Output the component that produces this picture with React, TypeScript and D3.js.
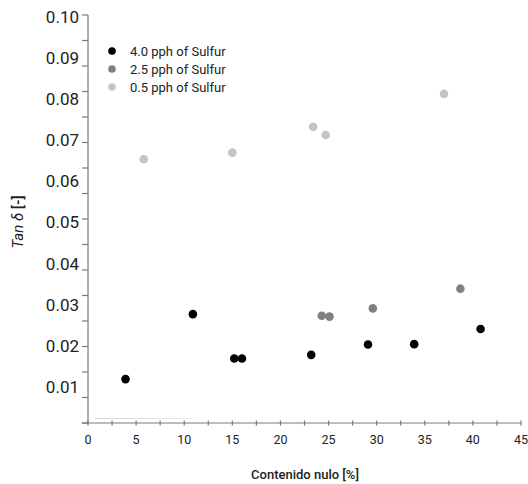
import React from "react";
import * as d3 from "d3";

const series4x = [3.9, 10.9, 15.2, 16.0, 23.2, 29.1, 33.9, 40.8];
const series4y = [0.0119, 0.0277, 0.0169, 0.0169, 0.0178, 0.0203, 0.0204, 0.0241];
const series25x = [24.3, 25.1, 29.6, 38.7];
const series25y = [0.0273, 0.0271, 0.0291, 0.0339];
const series05x = [5.8, 15.0, 23.4, 24.7, 37.0];
const series05y = [0.0654, 0.067, 0.0733, 0.0713, 0.0813];
const seriesNames = ["4.0 pph of Sulfur", "2.5 pph of Sulfur", "0.5 pph of Sulfur"];
const seriesColors = ["#000000", "#808080", "#c4c4c4"];
const xTickLabels = [0, 5, 10, 15, 20, 25, 30, 35, 40, 45];
const yTickLabels = [0.01, 0.02, 0.03, 0.04, 0.05, 0.06, 0.07, 0.08, 0.09, 0.1];

export default function App() {
  const W = 528, H = 484;
  const axisY = 423;
  const x = d3.scaleLinear().domain([0, 45]).range([88, 521]);
  const y = d3.scaleLinear().domain([0, 0.1]).range([428, 17]);
  const yTick = d3.scaleLinear().domain([0, 16]).range([axisY, 15]);
  const xMinor = d3.range(0, 45.01, 2.5);
  const font = "Roboto, 'Noto Sans', sans-serif";
  const axisColor = "#7a7a7a";
  const textColor = "#222";

  const all = [
    { xs: series4x, ys: series4y },
    { xs: series25x, ys: series25y },
    { xs: series05x, ys: series05y },
  ];

  return (
    <svg width={W} height={H} style={{ position: "absolute", left: 0, top: 0, background: "#fff" }} fontFamily={font}>
      <defs>
        <linearGradient id="fade" x1="0" x2="1" y1="0" y2="0">
          <stop offset="0" stopColor="#cfcfcf" />
          <stop offset="1" stopColor="#f2f2f2" />
        </linearGradient>
      </defs>
      {/* faint artifact line */}
      <rect x={95} y={418} width={100} height={1} fill="url(#fade)" />
      {/* y axis */}
      <line x1={x(0)} x2={x(0)} y1={15} y2={axisY} stroke={axisColor} strokeWidth={1.2} />
      {d3.range(0, 17).map((i) => (
        <line key={"yt" + i} x1={x(0) - 6} x2={x(0)} y1={yTick(i)} y2={yTick(i)} stroke={axisColor} strokeWidth={1.2} />
      ))}
      {yTickLabels.map((v) => (
        <text key={"yl" + v} x={79} y={y(v)} dy="0.35em" textAnchor="end" fontSize={17} fill={textColor}>
          {v.toFixed(2)}
        </text>
      ))}
      {/* x axis */}
      <line x1={x(0) - 6} x2={x(45)} y1={axisY} y2={axisY} stroke={axisColor} strokeWidth={1.2} />
      {xMinor.map((v) => (
        <line key={"xt" + v} x1={x(v)} x2={x(v)} y1={axisY - 2.5} y2={axisY + 2.5} stroke={axisColor} strokeWidth={1.2} />
      ))}
      {xTickLabels.map((v) => (
        <text key={"xl" + v} x={x(v)} y={444} textAnchor="middle" fontSize={12.5} fill={textColor}>
          {v}
        </text>
      ))}
      {/* axis titles */}
      <text x={305} y={479} textAnchor="middle" fontSize={13} fontWeight={500} fill={textColor}>
        Contenido nulo [%]
      </text>
      <text transform="translate(23,222) rotate(-90)" textAnchor="middle" fontSize={15} fill={textColor}>
        <tspan fontStyle="italic">Tan δ</tspan>
        <tspan fontWeight={600}> [-]</tspan>
      </text>
      {/* points */}
      {all.map((s, si) =>
        s.xs.map((xv, i) => (
          <circle key={"p" + si + "-" + i} cx={x(xv)} cy={y(s.ys[i])} r={4.3} fill={seriesColors[si]} />
        ))
      )}
      {/* legend */}
      {seriesNames.map((n, i) => (
        <g key={"lg" + i}>
          <circle cx={112} cy={51 + i * 18} r={3.8} fill={seriesColors[i]} />
          <text x={130} y={51 + i * 18} dy="0.35em" fontSize={13} fill={textColor}>
            {n}
          </text>
        </g>
      ))}
    </svg>
  );
}
